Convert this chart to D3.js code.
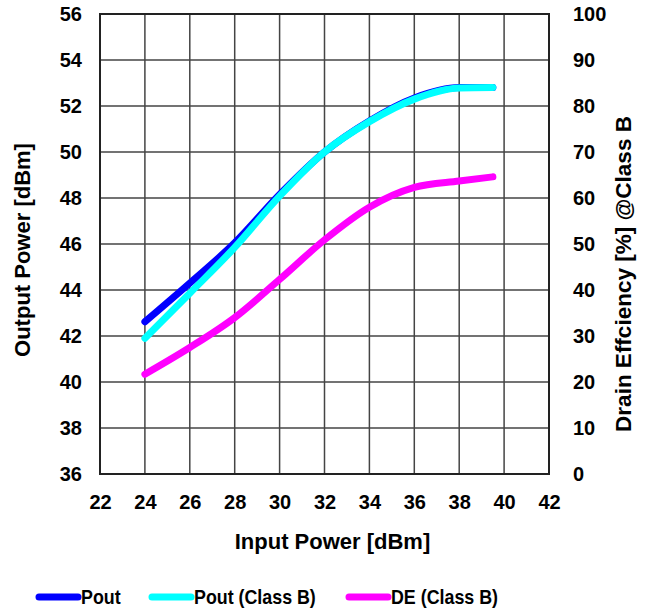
<!DOCTYPE html>
<html>
<head>
    <title>Output Power and Drain Efficiency vs Input Power</title>
    <script src="https://cdn.jsdelivr.net/npm/d3@7"></script>
    <style>
        body { margin: 0; background: #fff; }
        svg text { font-family: "Liberation Sans", Arial, sans-serif; font-weight: bold; fill: #000; }
        .grid line { stroke: #444; stroke-width: 1.5px; }
    </style>
</head>
<body>
    <div id="chart"></div>
    <script>
        // values
        var inputPower = [24, 26, 28, 30, 32, 34, 36, 38, 39.5];
        var pout       = [42.62, 44.3, 46.05, 48.15, 50.0, 51.35, 52.35, 52.8, 52.8];
        var poutClassB = [41.9, 43.86, 45.85, 48.08, 50.0, 51.32, 52.3, 52.78, 52.8];
        var deClassB   = [21.7, 27.5, 34.0, 42.3, 50.9, 58.0, 62.3, 63.7, 64.6];

        var xTicks  = d3.range(22, 43, 2);
        var yTicks  = d3.range(36, 57, 2);
        var y2Ticks = d3.range(0, 101, 10);

        var width = 647, height = 611;
        var margin = {left: 100, right: 98, top: 14, bottom: 137};
        var plotW = width - margin.left - margin.right,
            plotH = height - margin.top - margin.bottom;

        var svg = d3.select("#chart").append("svg")
            .attr("width", width)
            .attr("height", height);

        var g = svg.append("g")
            .attr("transform", "translate(" + margin.left + "," + margin.top + ")");

        var x = d3.scaleLinear().domain([22, 42]).range([0, plotW]);
        var y = d3.scaleLinear().domain([36, 56]).range([plotH, 0]);
        var y2 = d3.scaleLinear().domain([0, 100]).range([plotH, 0]);

        // gridlines
        var grid = g.append("g").attr("class", "grid");
        grid.selectAll(".v").data(xTicks).enter().append("line")
            .attr("x1", d => x(d)).attr("x2", d => x(d))
            .attr("y1", 0).attr("y2", plotH);
        grid.selectAll(".h").data(yTicks).enter().append("line")
            .attr("x1", 0).attr("x2", plotW)
            .attr("y1", d => y(d)).attr("y2", d => y(d));

        g.append("rect")
            .attr("width", plotW).attr("height", plotH)
            .attr("fill", "none").attr("stroke", "#222").attr("stroke-width", 2);

        // axes (labels only, frame drawn above)
        var xAxis = g.append("g")
            .attr("transform", "translate(0," + plotH + ")")
            .call(d3.axisBottom(x).tickValues(xTicks).tickSize(0).tickPadding(17));
        var yAxis = g.append("g")
            .call(d3.axisLeft(y).tickValues(yTicks).tickSize(0).tickPadding(18));
        var y2Axis = g.append("g")
            .attr("transform", "translate(" + plotW + ",0)")
            .call(d3.axisRight(y2).tickValues(y2Ticks).tickSize(0).tickPadding(24));

        [xAxis, yAxis, y2Axis].forEach(function (a) {
            a.select(".domain").remove();
            a.selectAll("text").attr("font-size", 20).attr("font-family", null);
        });
        xAxis.selectAll("text").attr("dy", "0.9em");

        // titles
        svg.append("text")
            .attr("x", margin.left + plotW / 2 + 8).attr("y", 549)
            .attr("text-anchor", "middle").attr("font-size", 22)
            .text("Input Power [dBm]");
        svg.append("text")
            .attr("transform", "translate(30," + (margin.top + plotH / 2 + 6) + ") rotate(-90)")
            .attr("text-anchor", "middle").attr("font-size", 22)
            .text("Output Power [dBm]");
        svg.append("text")
            .attr("transform", "translate(631," + (margin.top + plotH / 2 + 30) + ") rotate(-90)")
            .attr("text-anchor", "middle").attr("font-size", 22.5)
            .text("Drain Effciency [%] @Class B");

        // series
        var series = [
            {name: "Pout", values: pout, scale: y, color: "#0000ff"},
            {name: "Pout (Class B)", values: poutClassB, scale: y, color: "#00ffff"},
            {name: "DE (Class B)", values: deClassB, scale: y2, color: "#ff00ff"}
        ];

        series.forEach(function (s) {
            var line = d3.line()
                .x((d, i) => x(inputPower[i]))
                .y(d => s.scale(d))
                .curve(d3.curveMonotoneX);
            g.append("path")
                .datum(s.values)
                .attr("d", line)
                .attr("fill", "none")
                .attr("stroke", s.color)
                .attr("stroke-width", 7)
                .attr("stroke-linecap", "round")
                .attr("stroke-linejoin", "round");
        });

        // legend
        var legendX = [39, 152, 349];
        var legend = svg.append("g");
        series.forEach(function (s, i) {
            legend.append("line")
                .attr("x1", legendX[i]).attr("x2", legendX[i] + 39)
                .attr("y1", 597).attr("y2", 597)
                .attr("stroke", s.color).attr("stroke-width", 7)
                .attr("stroke-linecap", "round");
            legend.append("text")
                .attr("x", legendX[i] + 42).attr("y", 604.5)
                .attr("font-size", 20.5)
                .attr("transform", "translate(" + (legendX[i] + 42) + ",0) scale(0.87,1) translate(" + -(legendX[i] + 42) + ",0)")
                .text(s.name);
        });
    </script>
</body>
</html>
